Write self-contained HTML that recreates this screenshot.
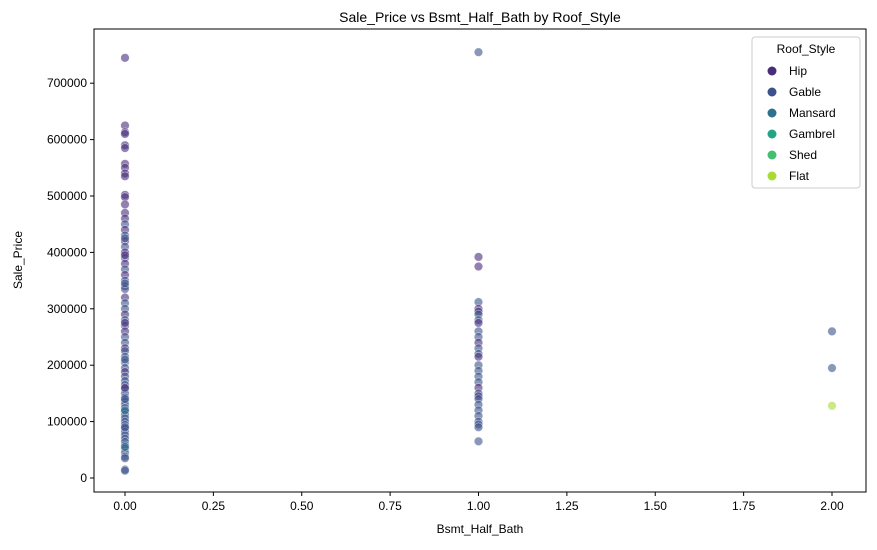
<!DOCTYPE html>
<html><head><meta charset="utf-8"><style>
body{margin:0;background:#fff;font-family:"Liberation Sans",sans-serif}
</style></head><body>
<svg id="chart" width="877" height="545" xmlns="http://www.w3.org/2000/svg" font-family="Liberation Sans, sans-serif">
<text x="480" y="22" font-size="14" text-anchor="middle">Sale_Price vs Bsmt_Half_Bath by Roof_Style</text>
<rect x="94" y="29" width="772" height="463" fill="none" stroke="#000" stroke-width="1"/>
<g id="marks"></g><g id="axes"></g>
<text x="480" y="533" font-size="12" text-anchor="middle">Bsmt_Half_Bath</text>
<text x="22" y="260" font-size="12" text-anchor="middle" transform="rotate(-90 22 260)">Sale_Price</text>
<g id="legend">
<rect x="752" y="37" width="108" height="151" fill="#fff" fill-opacity="0.8" stroke="#ccc" rx="3"/>
<text x="806" y="53" font-size="12" text-anchor="middle">Roof_Style</text>
</g>
</svg>
<script>
const styleNames=["Hip","Gable","Mansard","Gambrel","Shed","Flat"];
const styleColors=["#472d7b","#3b528b","#2c728e","#21a585","#44bf70","#a8db34"];
const xTicks=[0,0.25,0.5,0.75,1,1.25,1.5,1.75,2];
const yTicks=[0,100000,200000,300000,400000,500000,600000,700000];
const bathVals=[0,0,0,0,0,0,0,0,0,0,0,0,0,0,0,0,0,0,0,0,0,0,0,0,0,0,0,0,0,0,0,0,0,0,0,0,0,0,0,0,0,0,0,0,0,0,0,0,0,0,0,0,0,0,0,0,0,0,0,0,0,0,0,0,0,0,0,0,0,0,0,0,0,0,0,0,0,0,0,1,1,1,1,1,1,1,1,1,1,1,1,1,1,1,1,1,1,1,1,1,1,1,1,1,1,1,1,1,1,2,2,2];
const priceVals=[745000,625000,613000,610000,590000,585000,557000,550000,540000,535000,502000,498000,485000,470000,460000,450000,440000,430000,420000,410000,400000,390000,380000,370000,360000,350000,340000,335000,320000,310000,300000,290000,280000,270000,260000,250000,240000,230000,225000,215000,205000,195000,188000,180000,172000,165000,158000,150000,143000,136000,130000,124000,118000,112000,106000,100000,94000,88000,82000,76000,70000,64000,58000,52000,45000,38000,35000,15000,13000,425000,395000,345000,275000,210000,160000,140000,120000,90000,55000,755000,392000,375000,312000,300000,295000,290000,280000,275000,260000,250000,240000,230000,220000,215000,200000,190000,180000,170000,160000,150000,145000,140000,130000,120000,110000,100000,95000,90000,65000,260000,195000,128000];
const styleIdx=[0,0,0,0,0,0,0,0,0,0,0,0,0,0,0,1,0,1,0,1,0,1,0,1,0,1,0,1,0,1,1,0,1,1,0,1,1,0,1,1,1,1,0,1,1,1,1,1,1,1,1,1,1,1,1,1,1,1,1,1,1,1,1,1,1,1,1,1,1,1,0,1,0,1,0,1,2,1,2,1,0,0,1,0,0,1,1,0,1,1,0,1,1,0,1,1,1,1,0,1,0,1,1,1,1,1,1,1,1,1,1,5];
const ns="http://www.w3.org/2000/svg";
const X=v=>125+v*353.5, Y=v=>478-v*0.000564;
const marks=document.getElementById('marks'), axes=document.getElementById('axes'), leg=document.getElementById('legend');
function mk(t,a){const e=document.createElementNS(ns,t);for(const k in a)e.setAttribute(k,a[k]);return e;}
for(let i=0;i<priceVals.length;i++){
 const c=mk('circle',{cx:X(bathVals[i]),cy:Y(priceVals[i]),r:4.3,fill:styleColors[styleIdx[i]],'fill-opacity':0.6,stroke:'#fff','stroke-width':0.6,'stroke-opacity':0.6});
 
 
 marks.appendChild(c);
}
xTicks.forEach(t=>{
 const g=mk('g',{});
 
 
 g.appendChild(mk('line',{x1:X(t),x2:X(t),y1:492,y2:496,stroke:'#000'}));
 const tx=mk('text',{x:X(t),y:510,'font-size':12,'text-anchor':'middle'});tx.textContent=t.toFixed(2);g.appendChild(tx);
 axes.appendChild(g);
});
yTicks.forEach(t=>{
 const g=mk('g',{});
 
 
 g.appendChild(mk('line',{x1:90,x2:94,y1:Y(t),y2:Y(t),stroke:'#000'}));
 const tx=mk('text',{x:87,y:Y(t)+4,'font-size':12,'text-anchor':'end'});tx.textContent=t;g.appendChild(tx);
 axes.appendChild(g);
});
styleNames.forEach((n,i)=>{
 const g=mk('g',{});
 
 
 const y=71+i*21;
 g.appendChild(mk('circle',{cx:772,cy:y,r:4.5,fill:styleColors[i]}));
 const tx=mk('text',{x:789,y:y+4,'font-size':12});tx.textContent=n;g.appendChild(tx);
 leg.appendChild(g);
});
</script>
</body></html>
